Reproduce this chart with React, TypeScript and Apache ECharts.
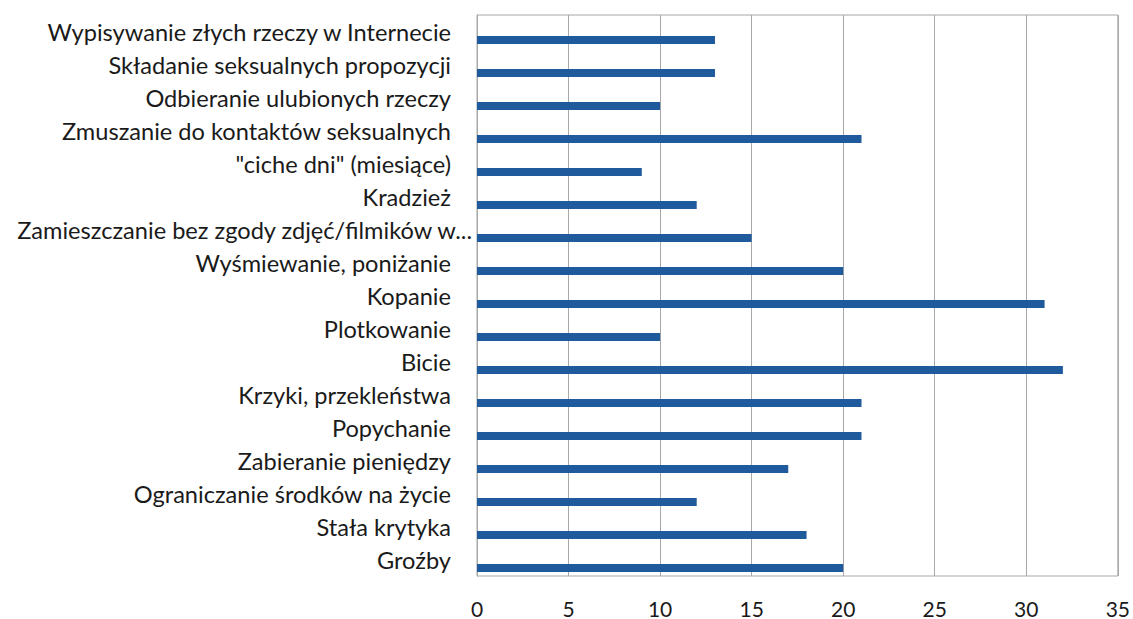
import React, { useEffect, useRef } from "react";
import * as echarts from "echarts";

const categories = [
  "Wypisywanie złych rzeczy w Internecie",
  "Składanie seksualnych propozycji",
  "Odbieranie ulubionych rzeczy",
  "Zmuszanie do kontaktów seksualnych",
  "\"ciche dni\" (miesiące)",
  "Kradzież",
  "Zamieszczanie bez zgody zdjęć/filmików w...",
  "Wyśmiewanie, poniżanie",
  "Kopanie",
  "Plotkowanie",
  "Bicie",
  "Krzyki, przekleństwa",
  "Popychanie",
  "Zabieranie pieniędzy",
  "Ograniczanie środków na życie",
  "Stała krytyka",
  "Groźby",
];

const values = [13, 13, 10, 21, 9, 12, 15, 20, 31, 10, 32, 21, 21, 17, 12, 18, 20];
const emptyValues = categories.map(() => 0);

const xTicks = [0, 5, 10, 15, 20, 25, 30, 35];

export default function App() {
  const ref = useRef<HTMLDivElement>(null);
  useEffect(() => {
    if (!ref.current) return;
    const chart = echarts.init(ref.current, undefined, { renderer: "svg" });
    chart.setOption({
      animation: false,
      backgroundColor: "#ffffff",
      grid: {
        left: 477,
        top: 15,
        right: 14,
        bottom: 43,
        containLabel: false,
        show: true,
        borderColor: "#a8a8a8",
        borderWidth: 1,
      },
      xAxis: {
        type: "value",
        min: xTicks[0],
        max: xTicks[xTicks.length - 1],
        interval: 5,
        axisLine: { show: false },
        axisTick: { show: false },
        splitLine: { show: true, lineStyle: { color: "#a8a8a8", width: 1 } },
        axisLabel: {
          margin: 23,
          fontFamily: "Lato",
          fontSize: 21,
          lineHeight: 18,
          color: "#1a1a1a",
        },
      },
      yAxis: {
        type: "category",
        inverse: true,
        data: categories,
        axisLine: { show: true, lineStyle: { color: "#a8a8a8" } },
        axisTick: { show: false },
        splitLine: { show: false },
        axisLabel: {
          margin: 5,
          interval: 0,
          formatter: (v: string) =>
            v.endsWith("...") ? "{b|" + v + "}" : "{a|" + v + "}",
          rich: {
            a: { fontFamily: "Lato", fontSize: 23.6, color: "#1a1a1a", padding: [0, 21, 0, 0] },
            b: { fontFamily: "Lato", fontSize: 23.6, color: "#1a1a1a" },
          },
        },
      },
      series: [
        {
          type: "bar",
          data: emptyValues,
          barWidth: 8,
          barGap: "112%",
          itemStyle: { color: "#1f5b9c" },
        },
        {
          type: "bar",
          data: values,
          barWidth: 8,
          barGap: "112%",
          itemStyle: { color: "#1f5b9c" },
        },
      ],
    });
    return () => chart.dispose();
  }, []);
  return (
    <div
      ref={ref}
      style={{ width: 1133, height: 619, position: "fixed", left: 0, top: 0, background: "#fff" }}
    />
  );
}
